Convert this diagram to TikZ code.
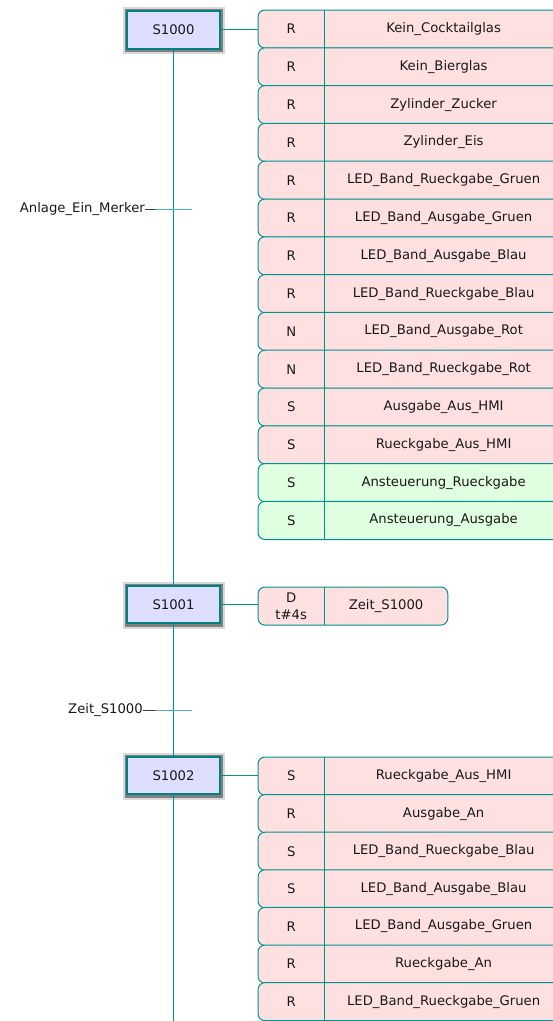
\documentclass[tikz,border=0pt]{standalone}
\usepackage{fontspec}
\setmainfont{DejaVu Sans}
\usepackage{tikz}
\usetikzlibrary{backgrounds}

\definecolor{sfcline}{RGB}{0,145,145}
\definecolor{stepfill}{RGB}{222,222,255}
\definecolor{actred}{RGB}{255,224,224}
\definecolor{actgreen}{RGB}{224,255,224}
\definecolor{txtdark}{RGB}{25,25,25}

\begin{document}
\begin{tikzpicture}[x=1pt, y=-1pt,
        font=\fontsize{13.2}{16}\selectfont, text=txtdark,
        sfc/.style={draw=sfcline, line width=1pt},
        stepbox/.style={draw=sfcline!90!black, line width=2pt, fill=stepfill,
            minimum width=93pt, minimum height=37.4pt, inner sep=0pt,
            preaction={draw=black!15, double=black!50, double distance=5.6pt, line width=2pt,
                transform canvas={xshift=0.5pt, yshift=-0.8pt}}},
        qual/.style={minimum width=66pt, minimum height=37.7pt, inner sep=0pt, anchor=north west},
        actname/.style={minimum width=238pt, minimum height=37.7pt, inner sep=0pt, anchor=north west},
        actbox/.style={draw=sfcline, line width=1pt, rounded corners=7pt},
        trlabel/.style={inner sep=0pt, anchor=east},
        tick/.style={draw=black!75, line width=0.9pt}]
    \useasboundingbox (0,0) rectangle (553,1021);
    \clip (0,0) rectangle (553,1021);

    % steps
    \node[stepbox] (s1000) at (173.5,29.8) {S1000};
    \node[stepbox] (s1001) at (173.5,604.5) {S1001};
    \node[stepbox] (s1002) at (173.5,775.5) {S1002};
    \coordinate (seqend) at (173.5,1040);

    \draw[sfc] (s1000) -- (s1001);
    \draw[sfc] (s1001) -- (s1002);
    \draw[sfc] (s1002.south) -- (seqend);

    % actions of S1000
    \foreach \q/\name/\fc [count=\i from 0] in {
            R/Kein\_Cocktailglas/actred, R/Kein\_Bierglas/actred,
            R/Zylinder\_Zucker/actred, R/Zylinder\_Eis/actred,
            R/LED\_Band\_Rueckgabe\_Gruen/actred, R/LED\_Band\_Ausgabe\_Gruen/actred,
            R/LED\_Band\_Ausgabe\_Blau/actred, R/LED\_Band\_Rueckgabe\_Blau/actred,
            N/LED\_Band\_Ausgabe\_Rot/actred, N/LED\_Band\_Rueckgabe\_Rot/actred,
            S/Ausgabe\_Aus\_HMI/actred, S/Rueckgabe\_Aus\_HMI/actred,
            S/Ansteuerung\_Rueckgabe/actgreen, S/Ansteuerung\_Ausgabe/actgreen} {
        \node[qual] (a\i) at (258,10+37.8*\i) {\q};
        \node[actname] (an\i) at (a\i.north east) {\name};
        \scoped[on background layer]
            \draw[actbox, fill=\fc] (a\i.north west) rectangle (an\i.south east);
        \draw[sfc] (a\i.north east) -- (a\i.south east);
    }
    \draw[sfc] (s1000.east) -- (s1000.east -| a0.west);

    % action of S1001
    \node[qual, align=center] (d0) at (258,587) {D\\[1pt]t\#4s};
    \node[actname, minimum width=123pt] (dn0) at (d0.north east) {Zeit\_S1000};
    \scoped[on background layer]
        \draw[actbox, fill=actred] (d0.north west) rectangle (dn0.south east);
    \draw[sfc] (d0.north east) -- (d0.south east);
    \draw[sfc] (s1001.east) -- (s1001.east -| d0.west);

    % actions of S1002
    \foreach \q/\name [count=\i from 0] in {
            S/Rueckgabe\_Aus\_HMI, R/Ausgabe\_An,
            S/LED\_Band\_Rueckgabe\_Blau, S/LED\_Band\_Ausgabe\_Blau,
            R/LED\_Band\_Ausgabe\_Gruen, R/Rueckgabe\_An,
            R/LED\_Band\_Rueckgabe\_Gruen} {
        \node[qual] (b\i) at (258,757+37.6*\i) {\q};
        \node[actname] (bn\i) at (b\i.north east) {\name};
        \scoped[on background layer]
            \draw[actbox, fill=actred] (b\i.north west) rectangle (bn\i.south east);
        \draw[sfc] (b\i.north east) -- (b\i.south east);
    }
    \draw[sfc] (s1002.east) -- (s1002.east -| b0.west);

    % transitions
    \coordinate (t1) at (173.5,209);
    \coordinate (t2) at (173.5,710);
    \draw[sfc, draw=sfcline!70] ([xshift=-18.5pt]t1) -- ([xshift=18.5pt]t1);
    \draw[sfc, draw=sfcline!70] ([xshift=-18.5pt]t2) -- ([xshift=18.5pt]t2);
    \node[trlabel] (t1l) at ([xshift=-28.5pt]t1) {Anlage\_Ein\_Merker};
    \node[trlabel] (t2l) at ([xshift=-30.5pt]t2) {Zeit\_S1000};
    \draw[tick] (t1l.east) -- ([xshift=-18.5pt]t1);
    \draw[tick] (t2l.east) -- ([xshift=-18.5pt]t2);
\end{tikzpicture}
\end{document}
